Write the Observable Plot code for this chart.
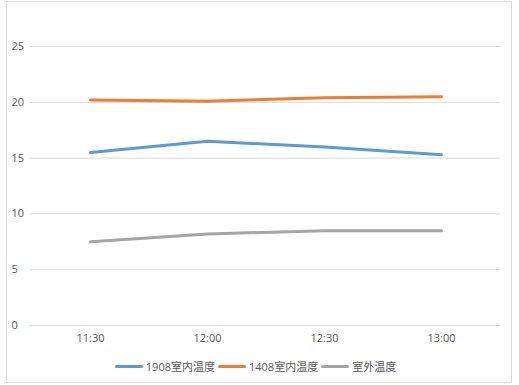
<!DOCTYPE html>
<html>
<head>
<meta charset="utf-8">
<script src="https://cdn.jsdelivr.net/npm/d3@7"></script>
<script src="https://cdn.jsdelivr.net/npm/@observablehq/plot@0.6"></script>
<style>
  html, body { margin: 0; padding: 0; background: #fff; }
  body { width: 519px; height: 385px; position: relative; overflow: hidden;
         font-family: "Open Sans", "Noto Sans CJK SC", sans-serif; }
  #frame { position: absolute; left: 6px; top: 1px; width: 506px; height: 382px;
           border: 1px solid #d9d9d9; box-sizing: border-box; }
  #chart { position: absolute; left: 0; top: 0; }
  #legend { position: absolute; left: -4px; top: 358px; width: 519px; display: flex;
            justify-content: center; align-items: center; font-size: 11px; color: #595959;
            font-family: "Open Sans", "Noto Sans CJK SC", sans-serif; }
  .item { display: flex; align-items: center; margin: 0 1.5px; }
  .sw { width: 28px; height: 3px; margin-right: 3px; border-radius: 1.5px; }
</style>
</head>
<body>
<div id="frame"></div>
<div id="chart"></div>
<div id="legend"></div>
<script>
const times = ["11:30", "12:00", "12:30", "13:00"];
const seriesNames = ["1908室内温度", "1408室内温度", "室外温度"];
const room1908 = [15.5, 16.5, 16.0, 15.3];
const room1408 = [20.2, 20.1, 20.4, 20.5];
const outdoor = [7.5, 8.2, 8.5, 8.5];
const yTicks = [0, 5, 10, 15, 20, 25];
const colors = ["#5B9BD5", "#ED7D31", "#A5A5A5"];

const allValues = [room1908, room1408, outdoor];
const data = [];
seriesNames.forEach((s, i) => {
  times.forEach((t, j) => data.push({series: s, time: t, value: allValues[i][j]}));
});

const plot = Plot.plot({
  width: 519,
  height: 350,
  marginLeft: 30,
  marginRight: 19,
  marginTop: 46,
  marginBottom: 25,
  style: {fontFamily: '"Open Sans", "Noto Sans CJK SC", sans-serif', fontSize: "11px", color: "#595959", background: "transparent"},
  x: {type: "point", domain: times, padding: 0.5, label: null},
  y: {domain: [0, 25], label: null},
  color: {domain: seriesNames, range: colors},
  marks: [
    Plot.gridY(yTicks, {stroke: "#d9d9d9", strokeOpacity: 1}),
    Plot.axisY(yTicks, {tickSize: 0, tickPadding: 19, textAnchor: "start", label: null, fill: "#595959"}),
    Plot.axisX({tickSize: 0, tickPadding: 9, label: null, fill: "#595959"}),
    Plot.line(data, {x: "time", y: "value", z: "series", stroke: "series", strokeWidth: 3, strokeLinecap: "round"})
  ]
});
document.getElementById("chart").appendChild(plot);

const legend = document.getElementById("legend");
seriesNames.forEach((s, i) => {
  const item = document.createElement("div");
  item.className = "item";
  const sw = document.createElement("div");
  sw.className = "sw";
  sw.style.background = colors[i];
  const label = document.createElement("span");
  label.textContent = s;
  item.appendChild(sw);
  item.appendChild(label);
  legend.appendChild(item);
});
</script>
</body>
</html>
